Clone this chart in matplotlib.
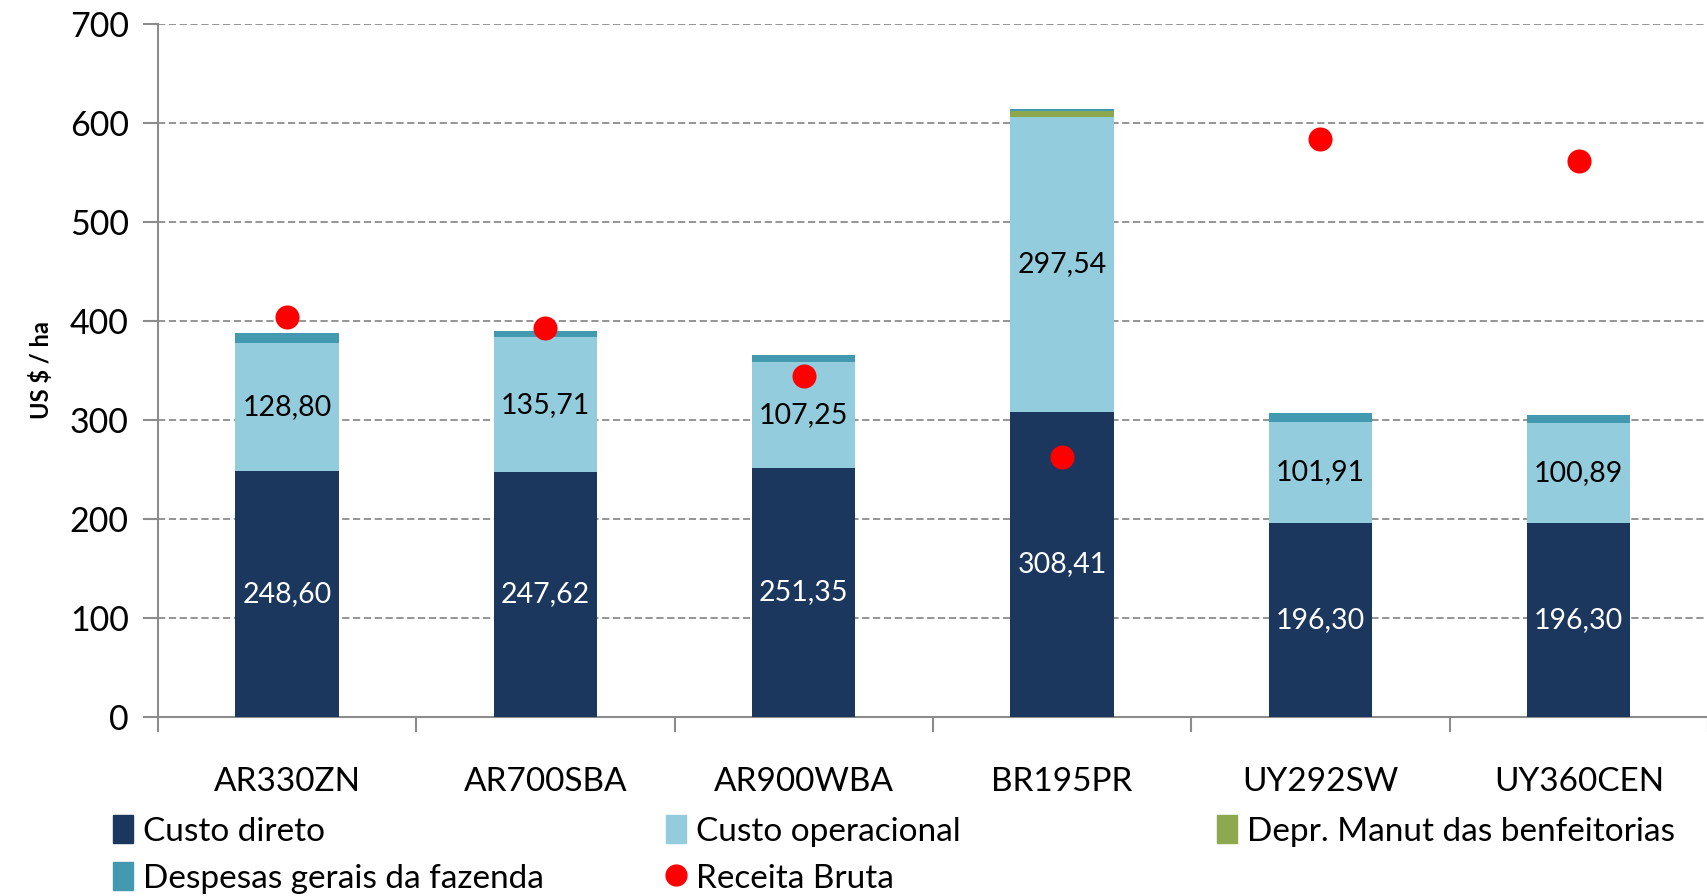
import matplotlib

matplotlib.use("Agg")
import matplotlib.pyplot as plt
from matplotlib.patches import Patch
from matplotlib.lines import Line2D

plt.rcParams["font.family"] = ["Lato", "DejaVu Sans"]

farms = ["AR330ZN", "AR700SBA", "AR900WBA", "BR195PR", "UY292SW", "UY360CEN"]
custo_direto = [248.60, 247.62, 251.35, 308.41, 196.30, 196.30]
custo_operacional = [128.80, 135.71, 107.25, 297.54, 101.91, 100.89]
depr_manut = [0.0, 0.0, 0.0, 6.0, 0.0, 0.0]
despesas_gerais = [10.5, 6.0, 7.0, 2.0, 9.0, 8.0]
receita_bruta = [404, 393, 344, 262, 584, 562]

C_DIRETO = "#1b375d"
C_OPER = "#93cddd"
C_DEPR = "#8ea84f"
C_DESP = "#4399b0"
GRID = "#8c8c8c"
W, H = 1708, 896


def fmt(v):
    return f"{v:.2f}".replace(".", ",")


fig = plt.figure(figsize=(W / 100, H / 100), dpi=100)
ax = fig.add_axes([0.0925, 0.2, 0.9075, 0.7732])
x = list(range(len(farms)))
w = 0.4

ax.bar(x, custo_direto, w, color=C_DIRETO, zorder=3)
ax.bar(x, custo_operacional, w, bottom=custo_direto, color=C_OPER, zorder=3)
base3 = [a + b for a, b in zip(custo_direto, custo_operacional)]
ax.bar(x, depr_manut, w, bottom=base3, color=C_DEPR, zorder=3)
base4 = [a + b for a, b in zip(base3, depr_manut)]
ax.bar(x, despesas_gerais, w, bottom=base4, color=C_DESP, zorder=3)
ax.scatter(x, receita_bruta, s=300, color="#ff0000", zorder=5, linewidths=0)

for xi, d, o in zip(x, custo_direto, custo_operacional):
    ax.text(xi, d / 2, fmt(d), ha="center", va="center", color="white", fontsize=20.5, zorder=6)
    ax.text(xi, d + o / 2, fmt(o), ha="center", va="center", color="black", fontsize=20.5, zorder=6)

ax.set_xlim(-0.5, 5.5)
ax.set_ylim(0, 700)
ax.set_yticks(range(0, 701, 100))
ax.yaxis.grid(True, linestyle=(0, (4, 2)), color=GRID, linewidth=1.3, zorder=0)
ax.set_xticks([i + 0.5 for i in range(-1, 6)])
ax.set_xticklabels([])
ax.set_xticks(x, minor=True)
ax.set_xticklabels(farms, minor=True, fontsize=24)
ax.tick_params(axis="x", which="major", length=11, width=1.5, color=GRID, direction="out")
ax.tick_params(axis="x", which="minor", length=0, pad=36)
ax.tick_params(axis="y", length=11, width=1.5, color=GRID, labelsize=24.5, pad=10)
for s in ["top", "right"]:
    ax.spines[s].set_visible(False)
for s in ["left", "bottom"]:
    ax.spines[s].set_color(GRID)
    ax.spines[s].set_linewidth(1.5)
ax.set_ylabel("US $ / ha", fontsize=17, fontweight="bold", labelpad=12)

# legend entries placed one by one, Excel style grid (x px, y px from top)
entries = [
    (Patch(color=C_DIRETO, label="Custo direto"), 113, 831),
    (Patch(color=C_OPER, label="Custo operacional"), 666, 831),
    (Patch(color=C_DEPR, label="Depr. Manut das benfeitorias"), 1217, 831),
    (Patch(color=C_DESP, label="Despesas gerais da fazenda"), 113, 878),
    (Line2D([], [], marker="o", linestyle="none", color="#ff0000", markersize=15,
            label="Receita Bruta"), 666, 878),
]
for handle, px, py in entries:
    fig.legend(handles=[handle], loc="center left", bbox_to_anchor=(px / W, 1 - py / H),
               frameon=False, fontsize=24, handlelength=0.6, handleheight=0.9,
               handletextpad=0.3, borderpad=0, borderaxespad=0)

fig.savefig("out.png", dpi=100)
